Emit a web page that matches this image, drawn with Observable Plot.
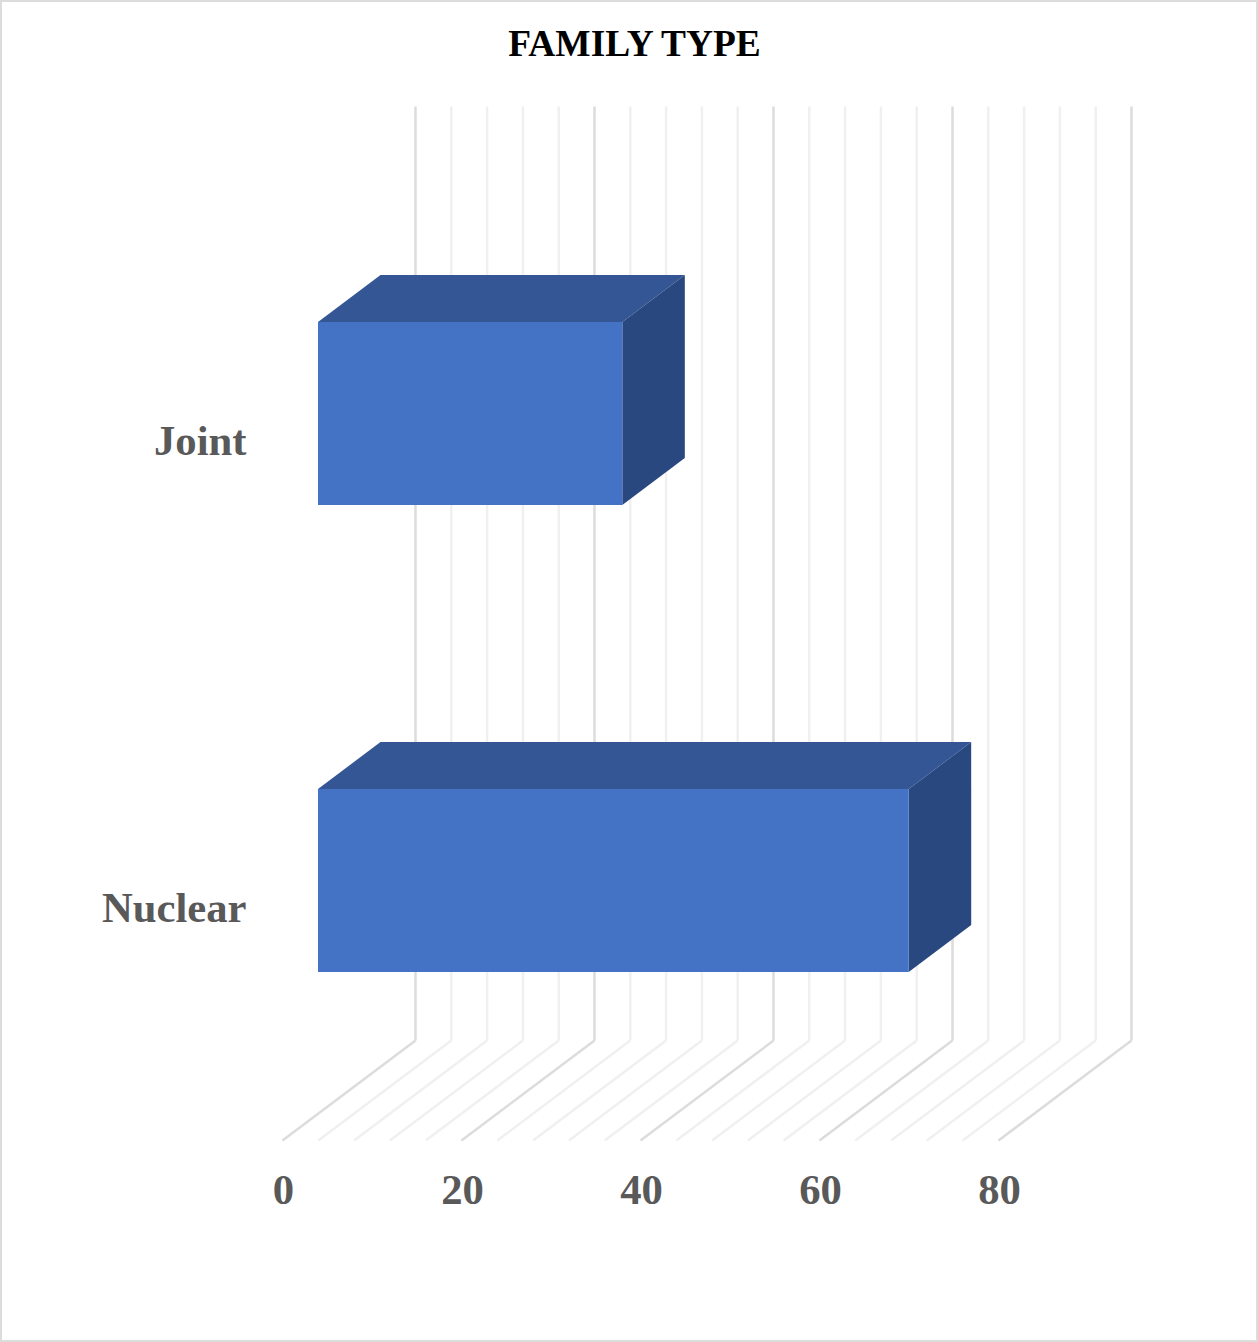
<!DOCTYPE html>
<html>
<head>
<meta charset="utf-8">
<style>
  html, body { margin: 0; padding: 0; background: #fff; }
  #chart { position: relative; width: 1258px; height: 1342px; }
  #chart svg { display: block; position: absolute; left: 0; top: 0; }
  #frame { position: absolute; inset: 0; box-sizing: border-box; border: 2px solid #dcdcdc; pointer-events: none; }
</style>
<script src="https://cdn.jsdelivr.net/npm/d3@7"></script>
<script src="https://cdn.jsdelivr.net/npm/@observablehq/plot@0.6"></script>
</head>
<body>
<div id="chart"><div id="frame"></div></div>
<script>
const categories = ["Joint", "Nuclear"];
const shares = [34, 66];
const xTicks = [0, 20, 40, 60, 80];
const gridStep = 4;

// Oblique projection: one full unit of depth moves a point this far along x and y.
const depthX = 14.86;
const depthY = -0.214;
const barFront = 0.27;
const barBack = 0.74;
const barHalf = 0.196;

const project = (v, y, d) => ({x: v + d * depthX, y: y + d * depthY});
const slot = (i) => i + 0.5;

const gridValues = d3.range(0, 80 + gridStep, gridStep);
const gridLinks = (wanted) => gridValues.filter(wanted).flatMap((v) => {
  const floorFront = project(v, 2, 0);
  const floorBack = project(v, 2, 1);
  const wallTop = project(v, 0, 1);
  return [
    {x1: floorFront.x, y1: floorFront.y, x2: floorBack.x, y2: floorBack.y},
    {x1: floorBack.x, y1: floorBack.y, x2: wallTop.x, y2: wallTop.y}
  ];
});

// Each bar is three faces: front, top and the end cap.
const faces = categories.flatMap((c, i) => {
  const v = shares[i], t = slot(i) - barHalf, b = slot(i) + barHalf;
  const face = (name, corners) => corners.map(([a, y, d]) => ({id: c + name, face: name, ...project(a, y, d)}));
  return [
    ...face("top", [[0, t, barFront], [v, t, barFront], [v, t, barBack], [0, t, barBack]]),
    ...face("side", [[v, t, barFront], [v, b, barFront], [v, b, barBack], [v, t, barBack]]),
    ...face("front", [[0, t, barFront], [v, t, barFront], [v, b, barFront], [0, b, barFront]])
  ];
});
const faceColours = {front: "#4472c4", top: "#345694", side: "#2a4880"};
const faceMark = (name) => Plot.line(faces.filter((d) => d.face === name), {
  x: "x", y: "y", z: "id", fill: faceColours[name], stroke: "none", dy: 0.5, dx: -0.4, curve: "linear-closed"
});

const font = "'Liberation Serif', serif";

const plot = Plot.plot({
  width: 1258,
  height: 1342,
  marginTop: 0,
  marginRight: 0,
  marginBottom: 0,
  marginLeft: 0,
  style: {background: "transparent", fontFamily: font},
  x: {domain: [0, 80], range: [282, 998]},
  y: {domain: [0, 2], range: [206, 1140]},
  marks: [
    Plot.link(gridLinks((v) => v % 20 !== 0), {x1: "x1", y1: "y1", x2: "x2", y2: "y2", stroke: "#f0f0f0", strokeWidth: 2.5}),
    Plot.link(gridLinks((v) => v % 20 === 0), {x1: "x1", y1: "y1", x2: "x2", y2: "y2", stroke: "#dcdcdc", strokeWidth: 2.5}),
    faceMark("top"),
    faceMark("side"),
    faceMark("front"),
    Plot.axisX({
      anchor: "bottom", ticks: xTicks, tickSize: 0, tickPadding: 0, label: null,
      y: 2, dy: 50, dx: 1, textAnchor: "middle",
      fontSize: 42.7, fontWeight: "bold", fill: "#595959", lineAnchor: "middle"
    }),
    Plot.axisY({
      anchor: "left", ticks: categories.map((c, i) => slot(i)),
      tickFormat: (y) => categories[Math.floor(y)],
      tickSize: 0, tickPadding: 0, label: null, x: 0, dx: -36, dy: 1.5,
      fontSize: 42.7, fontWeight: "bold", fill: "#595959"
    }),
    Plot.text(["FAMILY TYPE"], {
      frameAnchor: "top", dx: 5, dy: 44, lineAnchor: "middle",
      fontSize: 37.4, fontWeight: "bold", fill: "#000"
    })
  ]
});
document.getElementById("chart").prepend(plot);
</script>
</body>
</html>
